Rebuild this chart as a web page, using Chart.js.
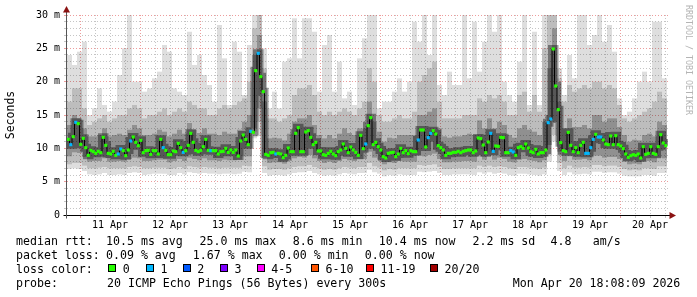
<!DOCTYPE html>
<html>
<head>
<meta charset="utf-8">
<script src="https://cdn.jsdelivr.net/npm/chart.js@4.4.1/dist/chart.umd.min.js"></script>
<style>
html,body{margin:0;padding:0;background:#ffffff;}
#wrap{position:relative;width:697px;height:297px;overflow:hidden;background:#ffffff;}
#c{position:absolute;left:0;top:0;}
.t{position:absolute;white-space:pre;font-family:"DejaVu Sans Mono",monospace;font-size:11.6px;line-height:14px;color:#000;}
.box{position:absolute;width:8px;height:8px;box-sizing:border-box;border:1px solid #000;top:264px;}
#credit{position:absolute;left:684px;top:5px;writing-mode:vertical-rl;font-family:"DejaVu Sans Mono",monospace;font-size:8.3px;line-height:9px;color:#b4b4b4;white-space:pre;}
</style>
</head>
<body>
<div id="wrap">
<canvas id="c" width="697" height="297"></canvas>
<div id="credit">RRDTOOL / TOBI OETIKER</div>
<div class="t" style="left:16px;top:234px">median rtt:</div>
<div class="t" style="left:106px;top:234px">10.5 ms avg</div>
<div class="t" style="left:199.5px;top:234px">25.0 ms max</div>
<div class="t" style="left:292.8px;top:234px">8.6 ms min</div>
<div class="t" style="left:378.8px;top:234px">10.4 ms now</div>
<div class="t" style="left:472.5px;top:234px">2.2 ms sd</div>
<div class="t" style="left:550.5px;top:234px">4.8</div>
<div class="t" style="left:592.8px;top:234px">am/s</div>
<div class="t" style="left:16px;top:248px">packet loss:</div>
<div class="t" style="left:106px;top:248px">0.09 % avg</div>
<div class="t" style="left:192.8px;top:248px">1.67 % max</div>
<div class="t" style="left:278.8px;top:248px">0.00 % min</div>
<div class="t" style="left:364.8px;top:248px">0.00 % now</div>
<div class="t" style="left:16px;top:262px">loss color:</div>
<div id="lossLegend"></div>
<div class="t" style="left:16px;top:276px">probe:</div>
<div class="t" style="left:107px;top:276px">20 ICMP Echo Pings (56 Bytes) every 300s</div>
<div class="t" style="left:512.8px;top:276px">Mon Apr 20 18:08:09 2026</div>
</div>
<script>
// ---- time axis (hours since Apr 10 00:00) ----
const startHour = 18.8;
const endHour = 259.2;
const dayLabels = ['11 Apr','12 Apr','13 Apr','14 Apr','15 Apr','16 Apr','17 Apr','18 Apr','19 Apr','20 Apr'];
const dayLabelHours = [36,60,84,108,132,156,180,204,228,252];
const xTickHours = [24,30,36,42,48,54,60,66,72,78,84,90,96,102,108,114,120,126,132,138,144,150,156,162,168,174,180,186,192,198,204,210,216,222,228,234,240,246,252,258];
const yTickValues = [0,1,2,3,4,5,6,7,8,9,10,11,12,13,14,15,16,17,18,19,20,21,22,23,24,25,26,27,28,29,30];
const yMajor = [0,5,10,15,20,25,30];
const yMajorLabels = ['0','5 m','10 m','15 m','20 m','25 m','30 m'];

// ---- median RTT, ms, one value per hour ----
const medianRtt = [
11.35,10.55,11.75,13.9,13.7,10.6,11.5,10.1,8.95,9.7,9.5,9.25,9.55,9.35,11.65,10.45,9.25,9.15,9.55,8.95,9.15,9.9,9.65,8.9,9.75,11.1,11.7,10.9,10.4,11.2,9.35,9.65,9.7,9.1,9.65,9.65,9.15,11.35,10.1,9.7,9.05,9.05,9.6,9.5,10.75,10.1,9.4,9.65,10.45,12.25,10.9,9.7,9.5,9.7,10.25,11.35,9.7,9.65,9.65,9.65,
9.15,9.5,9.55,10.0,9.4,9.75,9.4,9.75,8.85,11.1,12.0,11.35,10.55,12.55,12.4,21.65,24.25,20.75,18.5,9.1,8.95,9.35,9.4,9.15,9.25,9.15,8.6,8.95,10.05,9.5,9.5,12.25,13.1,9.5,9.5,12.45,12.65,11.65,10.55,10.9,9.6,9.6,9.05,8.95,9.25,9.55,9.15,8.9,9.5,9.75,10.65,10.0,9.35,10.2,9.75,9.4,8.95,11.95,9.95,10.65,
13.4,14.6,10.55,10.9,10.25,9.75,8.75,8.55,9.25,9.35,9.4,8.75,9.15,10.0,9.35,9.65,9.2,9.65,9.5,9.5,11.25,12.75,12.75,10.2,11.6,12.25,12.65,12.15,10.4,10.1,9.75,8.95,9.25,9.25,9.4,9.4,9.55,9.35,9.55,9.65,9.75,9.75,9.35,9.6,11.55,11.45,10.5,9.35,10.95,12.25,9.55,10.35,10.3,11.65,11.6,9.35,9.35,9.65,9.45,8.95,
10.1,10.25,10.0,10.65,10.05,9.5,9.35,9.85,9.15,9.35,9.35,9.75,13.85,14.4,24.9,19.35,15.8,10.85,9.65,9.5,12.4,10.45,9.5,10.1,9.35,10.45,10.9,9.25,9.25,10.1,11.35,12.1,11.7,11.7,11.25,10.65,10.55,11.85,10.55,11.9,10.55,10.35,9.95,9.15,8.65,8.9,9.05,8.95,9.15,8.55,10.25,9.1,9.25,10.25,9.25,9.1,10.25,12.05,10.8,10.4
];
// hours (indices into medianRtt) where 1 of 20 pings was lost
const lossOneIdx = [1,3,20,21,25,38,46,57,73,76,83,119,140,144,145,169,170,177,178,192,193,207,208,209,210,212,213];

// ---- smoke (distribution of the 20 pings), ms, one value per 2 hours ----
const smokeMin = [
6.9,7.0,6.9,6.6,6.1,6.0,6.1,6.3,6.0,6.0,6.1,6.0,6.3,6.4,6.3,6.0,6.1,6.2,6.2,6.2,6.0,6.0,6.3,6.1,6.4,6.3,6.2,6.3,6.2,6.2,
6.1,6.2,6.2,6.1,6.2,6.5,6.4,11.5,12,6.3,5.9,6.0,6.0,5.9,6.1,6.3,6.4,6.4,6.6,6.3,6.1,5.9,6.0,5.9,6.1,6.3,6.2,6.1,6.3,6.3,
6.8,6.4,6.2,5.8,6.0,5.9,6.1,6.0,6.0,6.0,6.5,6.4,6.5,6.6,6.3,6.0,6.0,6.1,6.1,6.1,6.1,6.0,6.4,6.2,6.4,6.2,6.3,6.2,6.0,5.9,
6.2,6.2,6.1,6.0,5.9,6.1,8.0,11,6.6,6.0,6.4,6.1,6.1,6.2,6.1,6.5,6.5,6.3,6.4,6.4,6.2,5.9,5.8,5.8,5.8,6.0,6.0,5.9,6.3,6.3
];
const smokeP10 = [
7.6,7.8,7.8,7.4,7.0,7.0,7.1,7.2,7.0,7.0,7.0,7.0,7.2,7.3,7.2,7.0,7.0,7.1,7.1,7.1,6.9,7.0,7.2,7.0,7.3,7.2,7.1,7.2,7.1,7.1,
7.0,7.1,7.1,7.1,7.1,7.4,7.3,12.5,14,7.3,6.8,6.9,6.9,6.8,7.0,7.2,7.3,7.3,7.5,7.2,7.0,6.8,6.9,6.8,7.0,7.2,7.1,7.0,7.2,7.2,
7.8,7.3,7.1,6.7,6.9,6.8,7.0,7.0,7.0,7.0,7.5,7.4,7.5,7.6,7.2,6.9,6.9,7.0,7.0,7.0,7.0,7.0,7.4,7.2,7.4,7.2,7.3,7.2,7.0,6.9,
7.2,7.2,7.1,7.0,6.9,7.1,9.0,12,7.8,7.0,7.4,7.1,7.1,7.2,7.1,7.5,7.5,7.3,7.4,7.4,7.2,6.9,6.7,6.8,6.7,7.0,7.0,6.9,7.3,7.3
];
const smokeP25 = [
8.8,9.4,9.3,8.7,8.0,8.1,8.1,8.5,8.0,8.0,8.1,8.0,8.4,8.6,8.5,8.1,8.1,8.2,8.3,8.3,7.9,8.1,8.4,8.1,8.6,8.4,8.2,8.5,8.2,8.2,
8.1,8.3,8.2,8.2,8.3,8.8,8.8,13,16,8.6,7.8,7.9,7.9,7.7,8.1,8.5,8.7,8.6,9.0,8.5,8.1,7.8,8.0,7.8,8.1,8.4,8.2,8.1,8.4,8.4,
9.5,8.6,8.3,7.6,7.9,7.8,8.1,8.0,8.0,8.0,9.0,8.8,9.0,9.2,8.4,7.9,7.9,8.0,8.0,8.1,8.1,8.0,8.8,8.3,8.9,8.3,8.6,8.4,8.0,7.9,
8.3,8.4,8.2,8.1,7.9,8.2,10.5,14,9.5,8.1,8.8,8.3,8.3,8.4,8.2,8.9,8.9,8.6,8.7,8.7,8.4,8.0,7.6,7.7,7.6,8.1,8.1,7.9,8.6,8.5
];
const smokeP75 = [
13.5,15,14.5,13,11.8,11.8,12,13,11.8,12,12.2,12,12.8,13.5,13,12,12,12.2,12.8,12.5,11.8,12.2,12.8,12.2,13.8,12.8,12.3,13,12.2,12.2,
12,12.5,12.2,12.2,12.8,14,15,24,27,17,11.5,11.6,11.5,11.2,12.2,14,14.5,14.5,15,13.5,12,11.5,12,11.5,12.2,13,12.3,12,13,13,
17,14,12.5,11,11.6,11.5,12,12,12,12,15,15,15.5,16,13,11.8,11.6,11.8,11.8,12,12.2,12,14.2,13,14.5,13,14,13.5,12,11.6,
13,13.5,12.8,12.5,12,14,22,28,17,13,14.5,13.2,13.2,13.5,13,15,15,14,14.5,14.5,13.2,12,11,11.3,11.2,12,12.2,11.8,14,13.5
];
const smokeP90 = [
17,19,19,16,13.5,14,14.5,15,14,14.5,15,15,16,16.5,16,14.5,15,15,15.5,16,15,15.5,16,15.5,17,16.5,16,16,15,15,
16,16.5,16,16.5,17,18,20,28,30,22,14.5,14.5,14,14.5,15,18,19,19,19.5,18,15.5,15,15.5,15,15.5,16,15.5,15,16,17,
22,20,15,14,14,14.5,15,14.5,14.5,15.5,20,21,22,23,17,14.5,14.5,14.5,14.5,15,15,15,17.5,17,18,17.5,18,17,15,15,
18,18.5,15.5,18,15.5,25,30,30,22,17,19.5,18.5,19,19.5,19,20,20,19,19.5,19,16.5,14.5,14,14.5,15,15.5,16,17,18.5,17.5
];
const smokeMax = [
24,22.5,24.5,26,15,16,19,16.5,15.5,17,21,25,30,20,20,18.5,19,20.5,21.5,25.5,24.5,19,18.5,18,27.5,22.5,24,21,19.5,17,
28.5,23.5,16.5,26,24.5,17.5,25.5,30,30,25,16,18.5,16,23,23.5,29.5,23.5,29.5,29.5,27.5,18.5,25.5,27,18.5,23,17.5,18.5,16.5,23.5,26.5,
30,30,16,17,17,18.5,20.5,18.5,20,29,26,30,24,30,19.5,18,21.5,19.5,19.5,30,20.5,29,21.5,26,30,27.5,30,20,18,17,
23,30,16.5,27.5,16.5,30,30,30,20.5,18,24,20.5,30,30,25.5,27,30,26,28.5,24.5,17.5,15,15.5,17.5,20,21.5,20,29,29,20.5
];

// ---- loss legend ----
const lossLabels = ['0','1','2','3','4-5','6-10','11-19','20/20'];
const lossColors = ['#26ff00','#00b8ff','#0059ff','#7e00ff','#ff00ff','#ff5500','#ff0000','#a10000'];
const lossBoxX = [108.3,146,182.7,220,256.7,311,366,430];

(function buildLossLegend(){
  const host = document.getElementById('lossLegend');
  lossLabels.forEach((lab, k) => {
    const b = document.createElement('div');
    b.className = 'box';
    b.style.left = lossBoxX[k] + 'px';
    b.style.background = lossColors[k];
    host.appendChild(b);
    const t = document.createElement('div');
    t.className = 't';
    t.style.left = (lossBoxX[k] + 14.5) + 'px';
    t.style.top = '262px';
    t.textContent = lab;
    host.appendChild(t);
  });
})();

const medTimes = medianRtt.map((_, j) => startHour + j + 0.5);
const smokeTimes = smokeMin.map((_, i) => startHour + 2 * i + 1);
const band = (lo, hi) => smokeTimes.map((t, i) => ({x: t, y: [lo[i], hi[i]]}));
const medPts = medTimes.map((t, j) => ({x: t, y: medianRtt[j]}));
const pointCols = medianRtt.map((_, j) => lossOneIdx.includes(j) ? lossColors[1] : lossColors[0]);

const MAJ = 'rgba(225,90,90,0.6)';
const MIN = 'rgba(150,150,150,0.55)';
const FONT = "'DejaVu Sans Mono', monospace";

const barCommon = {type: 'bar', borderWidth: 0, barPercentage: 1, categoryPercentage: 1, grouped: false, inflateAmount: 0};

const axesPlugin = {
  id: 'rrdAxes',
  afterDatasetsDraw(chart) {
    const {ctx, chartArea: a, scales: {x, y}} = chart;
    const x0 = Math.round(x.getPixelForValue(startHour)) - 0.5;
    const y0 = Math.round(y.getPixelForValue(0)) + 0.5;
    ctx.save();
    ctx.setLineDash([]);
    ctx.lineWidth = 1;
    ctx.strokeStyle = '#000';
    ctx.beginPath(); ctx.moveTo(x0 - 3, y0); ctx.lineTo(a.right + 3, y0); ctx.stroke();
    ctx.strokeStyle = '#555';
    ctx.beginPath(); ctx.moveTo(x0, y0 + 3); ctx.lineTo(x0, a.top - 4); ctx.stroke();
    ctx.fillStyle = '#8b1212';
    ctx.beginPath(); ctx.moveTo(x0, a.top - 9); ctx.lineTo(x0 - 3.5, a.top - 2.5); ctx.lineTo(x0 + 3.5, a.top - 2.5); ctx.closePath(); ctx.fill();
    ctx.beginPath(); ctx.moveTo(a.right + 8, y0); ctx.lineTo(a.right + 1.5, y0 - 3.5); ctx.lineTo(a.right + 1.5, y0 + 3.5); ctx.closePath(); ctx.fill();
    ctx.restore();
  }
};

new Chart(document.getElementById('c'), {
  type: 'bar',
  data: {
    datasets: [
      Object.assign({}, barCommon, {data: band(smokeMin, smokeMax), backgroundColor: 'rgba(0,0,0,0.13)', order: 9}),
      Object.assign({}, barCommon, {data: band(smokeP10, smokeP90), backgroundColor: 'rgba(0,0,0,0.15)', order: 8}),
      Object.assign({}, barCommon, {data: band(smokeP25, smokeP75), backgroundColor: 'rgba(0,0,0,0.24)', order: 7}),
      {type: 'line', data: medPts, borderColor: 'rgba(0,0,0,0.4)', borderWidth: 8, stepped: 'middle', pointRadius: 0, order: 3},
      {type: 'line', data: medPts, borderColor: '#000', borderWidth: 1, stepped: 'middle',
       pointStyle: 'rect', pointRadius: 2.2, pointBorderWidth: 0, pointBackgroundColor: pointCols, pointBorderColor: pointCols, order: 1}
    ]
  },
  options: {
    responsive: false, animation: false, devicePixelRatio: 1, events: [],
    layout: {padding: {top: 15, right: 29, left: 0, bottom: 0}},
    plugins: {legend: {display: false}, tooltip: {enabled: false}, title: {display: false}},
    scales: {
      x: {
        type: 'linear', min: startHour, max: endHour, offset: false,
        afterFit: s => { s.height = 82; },
        afterBuildTicks: s => { s.ticks = xTickHours.map(v => ({value: v})); },
        grid: {offset: false, lineWidth: 1, drawTicks: true, tickLength: 3,
               color: c => (c.tick && c.tick.value % 24 === 0) ? MAJ : MIN},
        border: {display: false, dash: [1, 2]},
        ticks: {autoSkip: false, maxRotation: 0, minRotation: 0, padding: 1, color: '#000',
                font: {family: FONT, size: 10},
                callback: v => { const k = dayLabelHours.indexOf(v); return k >= 0 ? dayLabels[k] : ''; }}
      },
      y: {
        type: 'linear', min: 0, max: 30,
        afterFit: s => { s.width = 67; },
        afterBuildTicks: s => { s.ticks = yTickValues.map(v => ({value: v})); },
        grid: {lineWidth: 1, drawTicks: true, tickLength: 3,
               color: c => (c.tick && c.tick.value % 5 === 0) ? MAJ : MIN},
        border: {display: false, dash: [1, 2]},
        ticks: {autoSkip: false, padding: 4, color: '#000', font: {family: FONT, size: 10},
                callback: v => { const k = yMajor.indexOf(v); return k >= 0 ? yMajorLabels[k] : ''; }},
        title: {display: true, text: 'Seconds', color: '#000', font: {family: FONT, size: 11.5}, padding: {top: 4, bottom: 0}}
      }
    }
  },
  plugins: [axesPlugin]
});
</script>
</body>
</html>
